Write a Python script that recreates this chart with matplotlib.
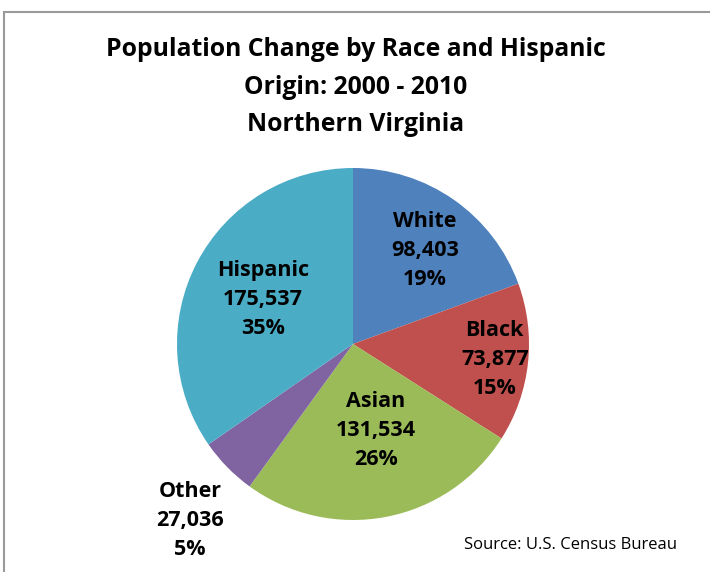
import numpy as np
import matplotlib.pyplot as plt
from matplotlib.patches import Rectangle

plt.rcParams['font.family'] = ['Open Sans', 'DejaVu Sans']

groups = ['White', 'Black', 'Asian', 'Other', 'Hispanic']
change = [98403, 73877, 131534, 27036, 175537]
pct_labels = ['19%', '15%', '26%', '5%', '35%']
colors = ['#4F81BD', '#C0504D', '#9BBB59', '#8064A2', '#4BACC6']
# label placement: distance from centre (radius units), angle tweak (deg)
label_dist = [0.67, 0.81, 0.51, 1.365, 0.57]
label_turn = [-2.7, 0.0, 4.0, 2.8, 1.5]

fig = plt.figure(figsize=(7.1, 5.72), dpi=100)
fig.patches.append(Rectangle((4 / 710, -0.05), 1.1, 1 - 12 / 572 + 0.05,
                             transform=fig.transFigure, fill=False,
                             edgecolor='#9a9a9a', linewidth=1.5))

cx, cy, r = 353, 344, 176
ax = fig.add_axes([(cx - r) / 710, (572 - cy - r) / 572, 2 * r / 710, 2 * r / 572])
wedges, _ = ax.pie(change, colors=colors, startangle=90, counterclock=False,
                   radius=1, wedgeprops=dict(linewidth=0))
ax.set_xlim(-1, 1)
ax.set_ylim(-1, 1)
ax.set_aspect('equal')
ax.axis('off')

for w, name, val, p, d, t in zip(wedges, groups, change, pct_labels, label_dist, label_turn):
    ang = np.deg2rad((w.theta1 + w.theta2) / 2 + t)
    ax.text(d * np.cos(ang), d * np.sin(ang), f'{name}\n{val:,}\n{p}',
            ha='center', va='center', fontsize=15.5, fontweight='bold',
            linespacing=1.5, color='black')

fig.text(356 / 710, 1 - 87 / 572,
         'Population Change by Race and Hispanic\nOrigin: 2000 - 2010\nNorthern Virginia',
         ha='center', va='center', fontsize=17.8, fontweight='bold', linespacing=1.65)
fig.text(571 / 710, 1 - 545 / 572, 'Source: U.S. Census Bureau',
         ha='center', va='center', fontsize=12)

fig.savefig('out.png', dpi=100)
